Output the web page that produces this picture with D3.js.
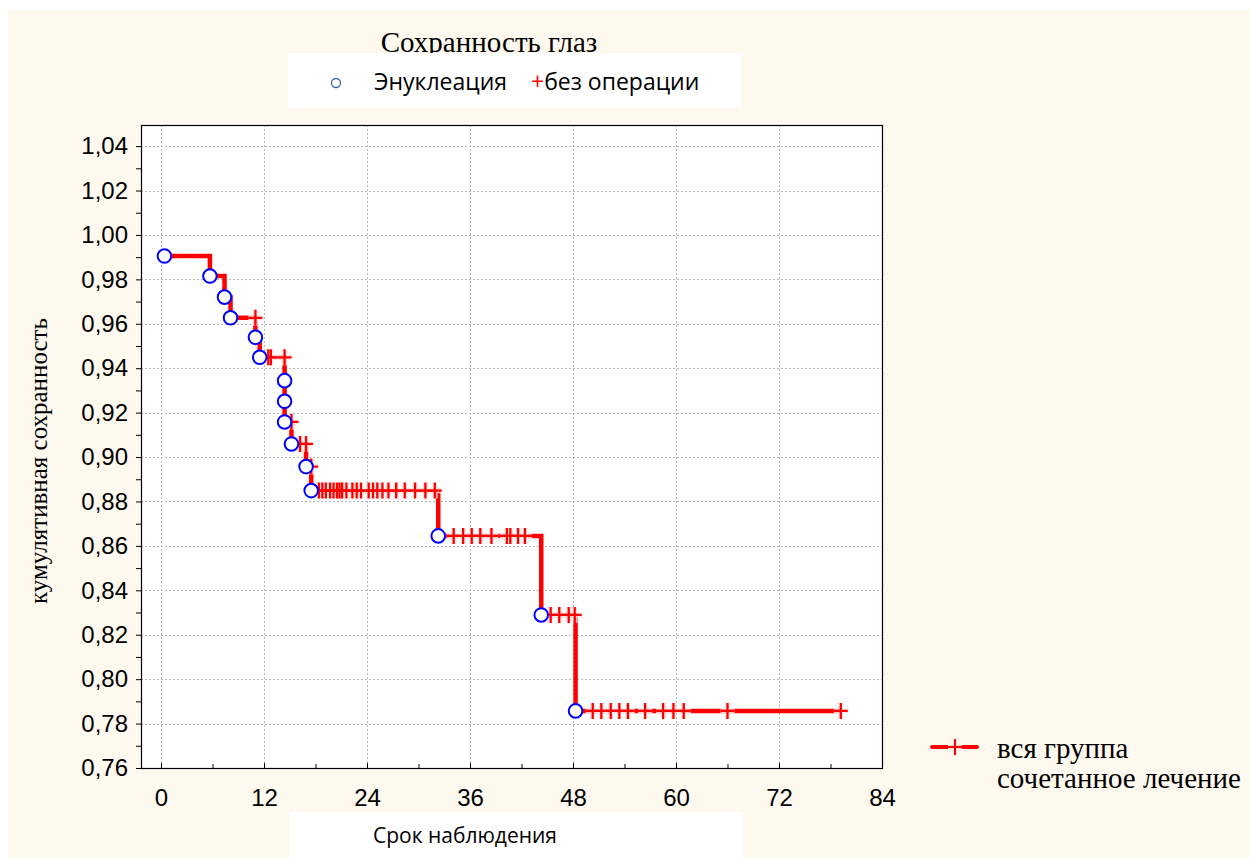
<!DOCTYPE html>
<html><head><meta charset="utf-8">
<script src="https://cdn.jsdelivr.net/npm/d3@7"></script>
<style>body{margin:0;background:#fff}svg{display:block}</style>
</head><body><svg id="c" width="1250" height="858"></svg>
<script>
// ---- data ----
const eventTimes = [0.4, 5.7, 7.4, 8.1, 11.0, 11.5, 14.4, 14.4, 14.4, 15.2, 16.9, 17.5, 32.3, 44.3, 48.3];
const eventSurv  = [0.9905, 0.9815, 0.9720, 0.9627, 0.9539, 0.9449, 0.9344, 0.9251, 0.9158, 0.9059, 0.8957, 0.8849, 0.8645, 0.8289, 0.7857];
const censorTimes = [11.0,
  12.5, 12.8, 14.4,
  15.2,
  16.2, 16.9,
  17.5,
  18.4, 18.8, 19.2, 19.7, 20.1, 20.5, 20.8, 21.1, 21.6, 22.3, 22.8, 23.3, 24.2, 24.7, 25.2, 25.8, 26.5, 27.4, 28.4, 29.6, 30.8, 31.9,
  34.1, 35.2, 36.2, 37.2, 38.5, 40.3, 40.7, 41.6, 42.4,
  45.4, 46.4, 47.5, 48.2,
  50.3, 51.3, 52.4, 53.4, 54.4, 56.4, 58.5, 59.7, 60.9, 66.0, 79.2];
const censorSurv = [0.9627,
  0.9449, 0.9449, 0.9449,
  0.9158,
  0.9059, 0.9059,
  0.8957,
  0.8849, 0.8849, 0.8849, 0.8849, 0.8849, 0.8849, 0.8849, 0.8849, 0.8849, 0.8849, 0.8849, 0.8849, 0.8849, 0.8849, 0.8849, 0.8849, 0.8849, 0.8849, 0.8849, 0.8849, 0.8849, 0.8849,
  0.8645, 0.8645, 0.8645, 0.8645, 0.8645, 0.8645, 0.8645, 0.8645, 0.8645,
  0.8289, 0.8289, 0.8289, 0.8289,
  0.7857, 0.7857, 0.7857, 0.7857, 0.7857, 0.7857, 0.7857, 0.7857, 0.7857, 0.7857, 0.7857];
const xTicks = [0, 12, 24, 36, 48, 60, 72, 84];
const xMinor = [-6, 6, 18, 30, 42, 54, 66, 78];
const yTicks = [0.76, 0.78, 0.80, 0.82, 0.84, 0.86, 0.88, 0.90, 0.92, 0.94, 0.96, 0.98, 1.00, 1.02, 1.04];
const yMinor = [0.77, 0.79, 0.81, 0.83, 0.85, 0.87, 0.89, 0.91, 0.93, 0.95, 0.97, 0.99, 1.01, 1.03];
const title = "Сохранность глаз";
const legendTop = ["Энуклеация", "без операции"];
const legendRight = ["вся группа", "сочетанное лечение"];
const xLabel = "Срок наблюдения";
const yLabel = "кумулятивная сохранность";

// ---- drawing ----
const svg = d3.select("#c");
const serif = "'Liberation Serif','DejaVu Serif',serif";
const sans = "'Open Sans','Liberation Sans',sans-serif";
const arial = "'Liberation Sans',Arial,sans-serif";
const narrow = "'Liberation Sans Narrow','Arial Narrow','Liberation Sans',sans-serif";

svg.append("rect").attr("x",0).attr("y",0).attr("width",1250).attr("height",858).attr("fill","#ffffff");
svg.append("rect").attr("x",8).attr("y",10).attr("width",1242).attr("height",848).attr("fill","#fef9ef");

const L = 141, R = 882, T = 125, B = 768;
const x = d3.scaleLinear().domain([-2.33, 84]).range([L, R]);
const y = d3.scaleLinear().domain([0.76, 1.0495]).range([B, T]);

svg.append("rect").attr("x",L).attr("y",T).attr("width",R-L).attr("height",B-T).attr("fill","#fff");

// grid
const grid = svg.append("g").attr("stroke","#b8b8b8").attr("stroke-width",1).attr("stroke-dasharray","2,2");
grid.selectAll(".gx").data(xTicks.filter(d=>d<84)).join("line")
  .attr("x1",d=>Math.round(x(d))+0.5).attr("x2",d=>Math.round(x(d))+0.5).attr("y1",T).attr("y2",B);
grid.selectAll(".gy").data(yTicks.filter(d=>d>0.76)).join("line")
  .attr("y1",d=>Math.round(y(d))+0.5).attr("y2",d=>Math.round(y(d))+0.5).attr("x1",L).attr("x2",R);

// axes
const loc = d3.formatLocale({decimal:",", thousands:" ", grouping:[3], currency:["",""]});
const fmt = loc.format(".2f");
const yAxis = svg.append("g").attr("transform",`translate(${L},0)`)
  .call(d3.axisLeft(y).tickValues(yTicks).tickFormat(fmt).tickSize(5).tickPadding(8));
yAxis.select(".domain").remove();
yAxis.selectAll("text").attr("font-family",arial).attr("font-size",24).attr("fill","#000");
svg.append("g").attr("transform",`translate(${L},0)`)
  .call(d3.axisLeft(y).tickValues(yMinor).tickFormat("").tickSize(5))
  .select(".domain").remove();

const xAxis = svg.append("g").attr("transform",`translate(0,${B})`)
  .call(d3.axisBottom(x).tickValues(xTicks).tickSize(-5).tickPadding(21));
xAxis.select(".domain").remove();
xAxis.selectAll("text").attr("font-family",narrow).attr("font-size",24).attr("fill","#000");
svg.append("g").attr("transform",`translate(0,${B})`)
  .call(d3.axisBottom(x).tickValues(xMinor).tickFormat("").tickSize(-4))
  .select(".domain").remove();

svg.append("rect").attr("x",L+0.5).attr("y",T+0.5).attr("width",R-L).attr("height",B-T)
  .attr("fill","none").attr("stroke","#000").attr("stroke-width",1.2);

// step line
const pts = eventTimes.map((t,i)=>[t, eventSurv[i]]);
pts.push([d3.max(censorTimes), eventSurv[eventSurv.length-1]]);
const line = d3.line().x(d=>x(d[0])).y(d=>y(d[1])).curve(d3.curveStepAfter);
svg.append("path").datum(pts).attr("d",line).attr("fill","none")
  .attr("stroke","#ff0000").attr("stroke-width",4.5).attr("stroke-linejoin","miter");

// censor marks
const plus = "M-7,0H7M0,-8V8";
const cens = censorTimes.map((t,i)=>[t, censorSurv[i]]);
const cg = svg.append("g");
cg.selectAll(".h").data(cens).join("path").attr("d",plus)
  .attr("transform",d=>`translate(${x(d[0])},${y(d[1])})`)
  .attr("stroke","rgba(255,232,232,0.85)").attr("stroke-width",5.5).attr("fill","none");
cg.selectAll(".p").data(cens).join("path").attr("d",plus)
  .attr("transform",d=>`translate(${x(d[0])},${y(d[1])})`)
  .attr("stroke","#ff0000").attr("stroke-width",2.3).attr("fill","none");

// event circles
svg.append("g").selectAll("circle").data(pts.slice(0,-1)).join("circle")
  .attr("cx",d=>x(d[0])).attr("cy",d=>y(d[1])).attr("r",6.8)
  .attr("fill","#fff").attr("stroke","#0000ff").attr("stroke-width",2);

// title & top legend
svg.append("text").attr("x",489).attr("y",52).attr("text-anchor","middle")
  .attr("font-family",serif).attr("font-size",29).text(title);
svg.append("rect").attr("x",288).attr("y",53).attr("width",453).attr("height",55).attr("fill","#fff");
svg.append("circle").attr("cx",336).attr("cy",83).attr("r",4.5).attr("fill","none")
  .attr("stroke","#3d66b8").attr("stroke-width",1.3);
svg.append("text").attr("x",374).attr("y",90).attr("font-family",sans).attr("font-size",23).text(legendTop[0]);
const lt = svg.append("text").attr("x",531).attr("y",90).attr("font-family",sans).attr("font-size",23);
lt.append("tspan").attr("fill","#ff0000").text("+");
lt.append("tspan").attr("fill","#000").text(legendTop[1]);

// x label
svg.append("rect").attr("x",290).attr("y",812).attr("width",453).attr("height",46).attr("fill","#fff");
svg.append("text").attr("x",465).attr("y",843).attr("text-anchor","middle")
  .attr("font-family",sans).attr("font-size",21).text(xLabel);

// y label
svg.append("text").attr("transform","translate(47,461) rotate(-90)").attr("text-anchor","middle")
  .attr("font-family",serif).attr("font-size",25).text(yLabel);

// right legend
svg.append("line").attr("x1",932).attr("x2",977).attr("y1",747).attr("y2",747)
  .attr("stroke","#ff0000").attr("stroke-width",4).attr("stroke-linecap","round");
svg.append("path").attr("d",plus).attr("transform","translate(955,747)")
  .attr("stroke","rgba(255,232,232,0.9)").attr("stroke-width",5).attr("fill","none");
svg.append("path").attr("d",plus).attr("transform","translate(955,747)")
  .attr("stroke","#ff0000").attr("stroke-width",2).attr("fill","none");
svg.append("text").attr("x",997).attr("y",758).attr("font-family",serif).attr("font-size",29).text(legendRight[0]);
svg.append("text").attr("x",997).attr("y",788).attr("font-family",serif).attr("font-size",29).text(legendRight[1]);
</script></body></html>
